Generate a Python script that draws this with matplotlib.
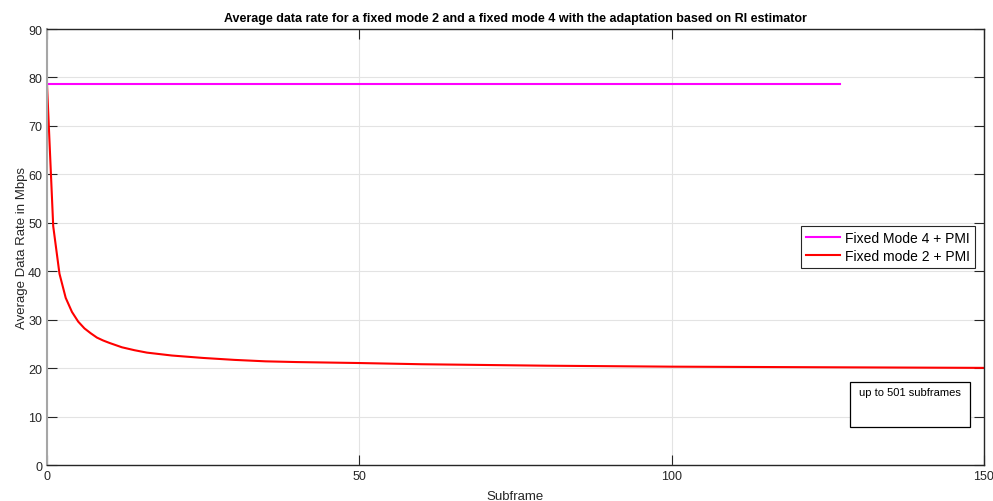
import matplotlib
matplotlib.use("Agg")
import matplotlib.pyplot as plt
from matplotlib.patches import Rectangle

plt.rcParams.update({
    "font.family": ["Liberation Sans", "DejaVu Sans"],
    "font.size": 9,
})

# Fixed mode 4 + PMI: constant rate, logged up to subframe ~127
mode4_subframe = [0, 127]
mode4_rate = [78.7, 78.7]

# Fixed mode 2 + PMI: running average rate
mode2_subframe = [0, 1, 2, 3, 4, 5, 6, 7, 8, 9, 10, 12, 14, 16, 18, 20,
                  25, 30, 35, 40, 50, 60, 70, 80, 90, 100, 110, 120, 130,
                  140, 150]
mode2_rate = [78.7, 49.3, 39.5, 34.5, 31.6, 29.6, 28.2, 27.2, 26.3, 25.7,
              25.2, 24.3, 23.7, 23.2, 22.9, 22.6, 22.1, 21.7, 21.4, 21.25,
              21.05, 20.8, 20.65, 20.5, 20.4, 20.3, 20.25, 20.2, 20.15,
              20.1, 20.05]

x_ticks = [0, 50, 100, 150]
y_ticks = [0, 10, 20, 30, 40, 50, 60, 70, 80, 90]

fig = plt.figure(figsize=(9.93, 5.02), dpi=100)
ax = fig.add_axes([0.0473, 0.0717, 0.9436, 0.8685])

ax.plot(mode4_subframe, mode4_rate, color="#ff00ff", linewidth=1.5,
        label="Fixed Mode 4 + PMI")
ax.plot(mode2_subframe, mode2_rate, color="#ff0000", linewidth=1.5,
        label="Fixed mode 2 + PMI")

ax.set_xlim(0, 150)
ax.set_ylim(0, 90)
ax.set_xticks(x_ticks)
ax.set_yticks(y_ticks)
ax.grid(True, color="#e3e3e3", linewidth=0.8)
ax.set_axisbelow(True)
ax.tick_params(direction="in", length=7, width=0.8, colors="#262626",
               top=True, right=True, labelsize=9)

for side in ("top", "right", "bottom"):
    ax.spines[side].set_color("#262626")
    ax.spines[side].set_linewidth(1.0)
ax.spines["left"].set_color("#a6a6a6")
ax.spines["left"].set_linewidth(1.5)

ax.set_xlabel("Subframe", fontsize=9.5, color="#262626", labelpad=6)
ax.set_ylabel("Average Data Rate in Mbps", fontsize=9.5, color="#262626",
              labelpad=0)
ax.set_title("Average data rate for a fixed mode 2 and a fixed mode 4 with "
             "the adaptation based on RI estimator",
             fontsize=9, fontweight="bold", pad=6)

leg = ax.legend(loc="upper right", bbox_to_anchor=(0.9904, 0.548),
                borderaxespad=0, fontsize=10, fancybox=False, framealpha=1,
                edgecolor="#262626", handlelength=2.5, borderpad=0.35,
                labelspacing=0.3, handletextpad=0.35)
leg.get_frame().set_linewidth(0.8)

# Annotation box in the lower right corner
ax.add_patch(Rectangle((0.857, 0.087), 0.128, 0.103, transform=ax.transAxes,
                       facecolor="white", edgecolor="black", linewidth=0.9,
                       zorder=5))
ax.text(0.921, 0.178, "up to 501 subframes", transform=ax.transAxes,
        ha="center", va="top", fontsize=8, zorder=6)

fig.savefig("out.png", dpi=100, facecolor="white")
